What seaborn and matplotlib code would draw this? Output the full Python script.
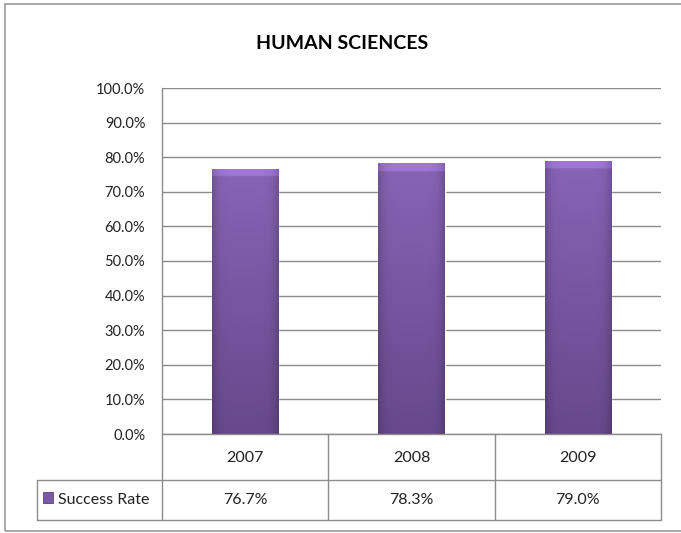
import numpy as np
import pandas as pd
import matplotlib
matplotlib.use("Agg")
import matplotlib.pyplot as plt
import seaborn as sns
from matplotlib.patches import Rectangle
from matplotlib.ticker import FuncFormatter

# chart data
years = ["2007", "2008", "2009"]
success_rate = [76.7, 78.3, 79.0]
series_name = "Success Rate"
title = "HUMAN SCIENCES"
y_ticks = list(range(0, 101, 10))

GRID = "#8c8c8c"
PURPLE = "#7b58a6"
TXT = "#222222"

sns.set_style("white")
plt.rcParams["font.family"] = ["Lato", "DejaVu Sans"]


def bar_gradient():
    """Excel-ish bevelled purple fill for the bars"""
    h, w = 200, 60
    xs = np.linspace(-1, 1, w)
    ys = np.linspace(1, 0, h)  # 1 = top row
    top = np.array([136, 100, 182]) / 255
    bot = np.array([103, 73, 140]) / 255
    col = bot[None, None, :] + (top - bot)[None, None, :] * ys[:, None, None]
    edge = 1 - 0.18 * np.abs(xs) ** 6
    img = col * edge[None, :, None]
    # lighter bevel at the top
    img[:6] = np.clip(img[:6] * 1.18, 0, 1)
    return np.clip(img, 0, 1)


def draw_data_table(ax):
    """Excel style data table under the category axis (axes coords)"""
    xl = -125 / 499          # left edge of the legend cell
    y_mid = -46 / 346        # header / value row border
    y_bot = -86 / 346        # table bottom
    kw = dict(transform=ax.transAxes, clip_on=False, color=GRID, lw=1, zorder=5)

    ax.plot([0, 1], [0, 0], **kw)
    ax.plot([xl, 1], [y_mid, y_mid], **kw)
    ax.plot([xl, 1], [y_bot, y_bot], **kw)
    ax.plot([xl, xl], [y_mid, y_bot], **kw)
    for k in range(len(years) + 1):
        xv = k / len(years)
        ax.plot([xv, xv], [0, y_bot], **kw)

    # cell texts: x in data (category) coords, y in axes coords
    trans = ax.get_xaxis_transform()
    for j, yr in enumerate(years):
        ax.text(j, -24 / 346, yr, transform=trans, ha="center", va="center",
                fontsize=11.5, color=TXT)
        ax.text(j, -66 / 346, f"{success_rate[j]:.1f}%", transform=trans,
                ha="center", va="center", fontsize=11.5, color=TXT)

    ax.text(-104 / 499, -66 / 346, series_name, transform=ax.transAxes,
            ha="left", va="center", fontsize=11.5, color=TXT)
    # legend key
    ax.add_patch(Rectangle((-119 / 499, -69 / 346), 10 / 499, 11 / 346,
                           transform=ax.transAxes, clip_on=False,
                           facecolor=PURPLE, edgecolor="#5a3f80", lw=0.6))


def main():
    df = pd.DataFrame({"year": years, "rate": success_rate})

    fig = plt.figure(figsize=(6.81, 5.33), dpi=100)
    ax = fig.add_axes([162 / 681, 1 - 434 / 533, 499 / 681, 346 / 533])

    sns.barplot(data=df, x="year", y="rate", color=PURPLE, width=0.4,
                saturation=1, ax=ax, zorder=2)

    grad = bar_gradient()
    for patch in ax.patches:
        x0, y0 = patch.get_x(), patch.get_y()
        im = ax.imshow(grad, extent=[x0, x0 + patch.get_width(), y0, y0 + patch.get_height()],
                       aspect="auto", zorder=3, interpolation="bilinear")
        im.set_clip_path(patch)

    ax.set_xlim(-0.5, 2.5)
    ax.set_ylim(0, 100)
    ax.set_yticks(y_ticks)
    ax.yaxis.set_major_formatter(FuncFormatter(lambda v, p: f"{v:.1f}%"))
    ax.tick_params(axis="y", length=0, pad=12, labelsize=10.5, labelcolor=TXT)
    ax.set_xticks([])
    ax.set_xlabel("")
    ax.set_ylabel("")
    ax.yaxis.grid(True, color=GRID, lw=1, zorder=0)
    ax.set_axisbelow(True)
    for side in ["top", "right", "bottom"]:
        ax.spines[side].set_visible(False)
    ax.spines["left"].set_color(GRID)
    ax.spines["left"].set_linewidth(1)

    draw_data_table(ax)

    fig.text(342 / 681, 1 - 43 / 533, title, ha="center", va="center",
             fontsize=14, fontweight="bold", color="black")

    # outer chart frame
    fig.patches.append(Rectangle((5 / 681, 1 - 531 / 533), 1.0, 527 / 533,
                                 transform=fig.transFigure, fill=False,
                                 edgecolor="#9a9a9a", lw=1.2))

    fig.savefig("out.png", dpi=100)
    plt.close(fig)


if __name__ == "__main__":
    main()
